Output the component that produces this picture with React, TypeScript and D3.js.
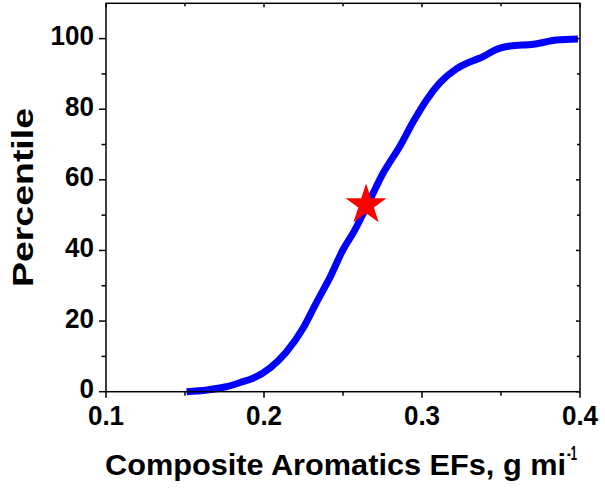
import React from "react";
import * as d3 from "d3";

const cdfX = [0.151, 0.164, 0.176, 0.185, 0.193, 0.204, 0.214, 0.225, 0.233, 0.242, 0.25, 0.257, 0.266, 0.2755, 0.286, 0.2945, 0.303, 0.3114, 0.322, 0.3293, 0.3367, 0.3494, 0.3557, 0.3705, 0.3852, 0.3987];
const cdfY = [0, 0.5, 1.4, 2.6, 3.8, 6.8, 11.2, 18.2, 25.1, 32.6, 40.2, 45.4, 53.4, 62, 69.5, 76.5, 82.7, 87.5, 91.5, 93.2, 94.5, 97.3, 97.9, 98.4, 99.6, 99.9];
const starX = [0.2646];
const starY = [52.9];
const xTicks = [0.1, 0.2, 0.3, 0.4];
const xMinor = [0.15, 0.25, 0.35];
const yTicks = [0, 20, 40, 60, 80, 100];
const yMinor = [10, 30, 50, 70, 90];

export default function App() {
  const W = 605, H = 490;
  const x = d3.scaleLinear().domain([0.1, 0.4]).range([106, 580]);
  const y = d3.scaleLinear().domain([0, 110]).range([391.7, 3.3]);
  const pts: [number, number][] = cdfX.map((v, i) => [v, cdfY[i]]);
  const line = d3.line<[number, number]>().x(d => x(d[0])).y(d => y(d[1])).curve(d3.curveMonotoneX);
  const star = d3.symbol().type(d3.symbolStar).size(519)();
  const font = "'Liberation Sans', Arial, sans-serif";
  const [x0, x1] = x.range();
  const [yb, yt] = y.range();
  return (
    <svg width={W} height={H} style={{ position: "absolute", left: 0, top: 0, background: "#fff" }} fontFamily={font} fontWeight="bold">
      <rect x={0} y={0} width={W} height={H} fill="#fff" />
      <path d={line(pts) || ""} fill="none" stroke="#0000ff" strokeWidth={7} strokeLinejoin="round" />
      {starX.map((v, i) => (
        <path key={i} d={star || ""} transform={`translate(${x(v)},${y(starY[i])})`} fill="#ff0000" />
      ))}
      <g stroke="#000" strokeWidth={1.5} fill="none">
        <rect x={x0} y={yt} width={x1 - x0} height={yb - yt} />
        {xTicks.map(t => (
          <g key={"xt" + t}>
            <line x1={x(t)} x2={x(t)} y1={yb} y2={yb + 6} />
            <line x1={x(t)} x2={x(t)} y1={yt} y2={yt + 4} />
          </g>
        ))}
        {xMinor.map(t => (
          <g key={"xm" + t}>
            <line x1={x(t)} x2={x(t)} y1={yb} y2={yb + 4} />
            <line x1={x(t)} x2={x(t)} y1={yt} y2={yt + 3} />
          </g>
        ))}
        {yTicks.map(t => (
          <g key={"yt" + t}>
            <line x1={x0 - 7} x2={x0} y1={y(t)} y2={y(t)} />
            <line x1={x1 - 4} x2={x1} y1={y(t)} y2={y(t)} />
          </g>
        ))}
        {yMinor.map(t => (
          <g key={"ym" + t}>
            <line x1={x0 - 4.5} x2={x0} y1={y(t)} y2={y(t)} />
            <line x1={x1 - 3} x2={x1} y1={y(t)} y2={y(t)} />
          </g>
        ))}
      </g>
      <g fontSize={28} fill="#000">
        {xTicks.map(t => (
          <text key={"xl" + t} transform={`translate(${x(t)},425) scale(0.93,1)`} textAnchor="middle">{d3.format(".1f")(t)}</text>
        ))}
        {yTicks.map(t => (
          <text key={"yl" + t} transform={`translate(94,${y(t) + 6.5}) scale(0.93,1)`} textAnchor="end">{t}</text>
        ))}
      </g>
      <text x={105} y={475} fontSize={29} fill="#000" textLength={461} lengthAdjust="spacingAndGlyphs">
        Composite Aromatics EFs, g mi
      </text>
      <text x={567} y={460} fontSize={20} fill="#000" textLength={10} lengthAdjust="spacingAndGlyphs">-1</text>
      <text transform="translate(33,197.5) rotate(-90)" textAnchor="middle" fontSize={29} fill="#000" textLength={179} lengthAdjust="spacingAndGlyphs">Percentile</text>
    </svg>
  );
}
